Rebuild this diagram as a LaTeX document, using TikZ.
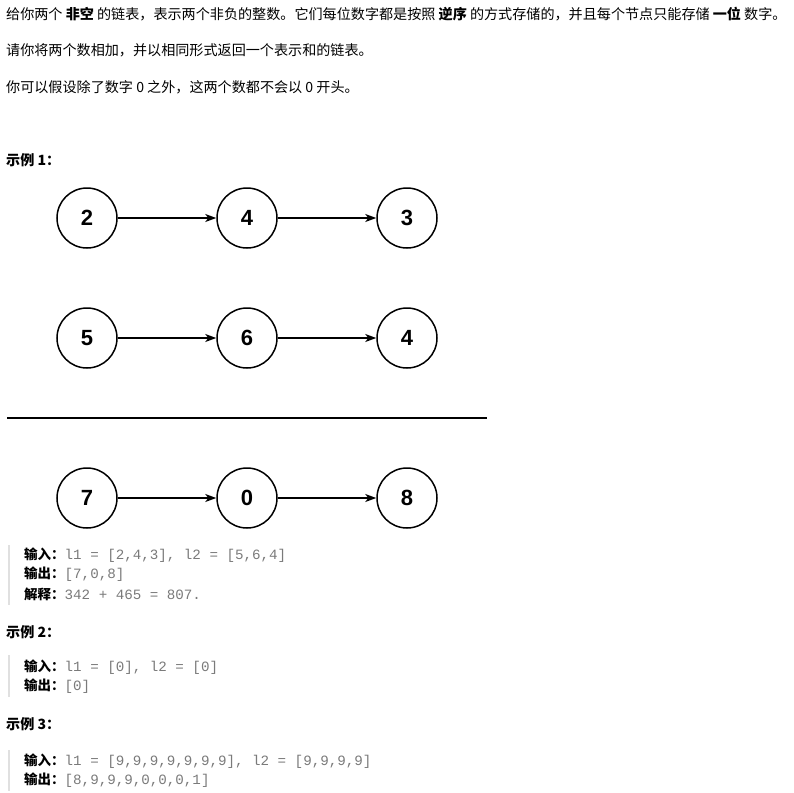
\documentclass[tikz,border=0pt]{standalone}
\usetikzlibrary{arrows.meta}
\usepackage{fontspec}
\setmainfont{Noto Sans CJK SC}
\newfontfamily\codefont{Liberation Mono}
\newfontfamily\numfont{Liberation Sans}
\definecolor{codegray}{HTML}{7A7A7A}
\begin{document}
\begin{tikzpicture}[x=1pt,y=-1pt,
  txt/.style={anchor=west,inner sep=0pt,font=\fontsize{14.1}{16}\selectfont},
  code/.style={anchor=west,inner sep=0pt,font=\fontsize{13.5}{16}\selectfont},
  circ/.style={circle,draw,line width=1.5pt,minimum size=60pt,inner sep=0pt,font=\numfont\bfseries\fontsize{22}{24}\selectfont},
  arr/.style={-{Stealth[length=11pt,width=8pt,inset=3pt]},line width=1.3pt},
  bar/.style={line width=2pt,draw=black!12}]
\useasboundingbox (0,0) rectangle (793,793);
\node[txt] (t1) at (6,14) {给你两个 \textbf{非空} 的链表，表示两个非负的整数。它们每位数字都是按照 \textbf{逆序} 的方式存储的，并且每个节点只能存储 \textbf{一位} 数字。};
\node[txt] (t2) at (6,50) {请你将两个数相加，并以相同形式返回一个表示和的链表。};
\node[txt] (t3) at (6,87) {你可以假设除了数字 0 之外，这两个数都不会以 0 开头。};
\node[txt] (h1) at (6,160) {\textbf{示例 1：}};
\foreach \r/\y/\a/\b/\c in {a/218/2/4/3, b/338/5/6/4, c/498/7/0/8}{
  \node[circ] (\r1) at (87,\y) {\a};
  \node[circ] (\r2) at (247,\y) {\b};
  \node[circ] (\r3) at (407,\y) {\c};
  \draw[arr] (\r1) -- (\r2);
  \draw[arr] (\r2) -- (\r3);
}
\coordinate (l1) at (7,418); \coordinate (l2) at (487,418);
\draw[line width=1.5pt] (l1) -- (l2);
\coordinate (b1s) at (9,545); \coordinate (b1e) at (9,605);
\draw[bar] (b1s) -- (b1e);
\node[code] (i1) at (24,555) {\textbf{输入：}\textcolor{codegray}{\codefont\fontsize{14.2}{16}\selectfont l1 = [2,4,3], l2 = [5,6,4]}};
\node[code] (o1) at (24,574) {\textbf{输出：}\textcolor{codegray}{\codefont\fontsize{14.2}{16}\selectfont [7,0,8]}};
\node[code] (e1) at (24,594) {\textbf{解释：}\textcolor{codegray}{\codefont\fontsize{14.2}{16}\selectfont 342 + 465 = 807.}};
\node[txt] (h2) at (6,632) {\textbf{示例 2：}};
\coordinate (b2s) at (9,655); \coordinate (b2e) at (9,697);
\draw[bar] (b2s) -- (b2e);
\node[code] (i2) at (24,667) {\textbf{输入：}\textcolor{codegray}{\codefont\fontsize{14.2}{16}\selectfont l1 = [0], l2 = [0]}};
\node[code] (o2) at (24,686) {\textbf{输出：}\textcolor{codegray}{\codefont\fontsize{14.2}{16}\selectfont [0]}};
\node[txt] (h3) at (6,724) {\textbf{示例 3：}};
\coordinate (b3s) at (9,750); \coordinate (b3e) at (9,791);
\draw[bar] (b3s) -- (b3e);
\node[code] (i3) at (24,761) {\textbf{输入：}\textcolor{codegray}{\codefont\fontsize{14.2}{16}\selectfont l1 = [9,9,9,9,9,9,9], l2 = [9,9,9,9]}};
\node[code] (o3) at (24,780) {\textbf{输出：}\textcolor{codegray}{\codefont\fontsize{14.2}{16}\selectfont [8,9,9,9,0,0,0,1]}};
\end{tikzpicture}
\end{document}
